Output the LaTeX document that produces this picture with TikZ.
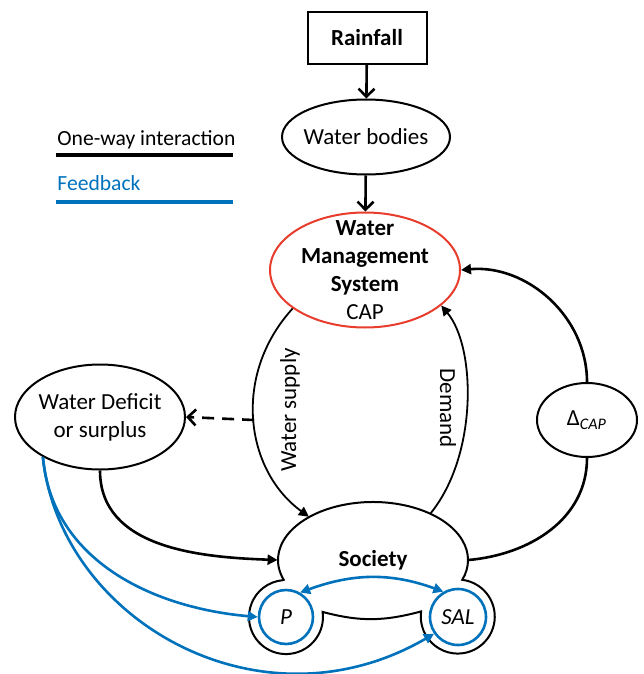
\documentclass[tikz,border=0pt]{standalone}
\usepackage{fontspec}
\setmainfont{Carlito}
\usetikzlibrary{positioning, arrows.meta, shapes.geometric}
\definecolor{fbblue}{RGB}{0,114,188}
\definecolor{wmsred}{RGB}{232,60,45}

\begin{document}
\begin{tikzpicture}[
			x=0.5pt, y=0.5pt,
			font=\fontsize{11.5}{14}\selectfont,
			oval/.style={ellipse, draw, line width=1pt, inner sep=0pt},
			flow/.style={line width=1.3pt, -{Triangle[length=5pt, width=5pt]}},
			barb/.style={line width=1.3pt, -{Straight Barb[length=4pt, width=8pt]}},
			thinflow/.style={line width=0.9pt, -{Triangle[length=5pt, width=5pt]}},
			fb/.style={draw=fbblue, line width=1.3pt, -{Triangle[length=5pt, width=5pt]}},
			keytext/.style={anchor=base west, inner sep=0pt, font=\fontsize{10.8}{13}\selectfont},
			agent/.style={circle, draw=fbblue, line width=1.3pt, minimum size=27pt, inner sep=0pt, font=\fontsize{11.5}{14}\selectfont\itshape}
			]
			\useasboundingbox (0,0) rectangle (643,-674);
			
			% Legenda
			\node[keytext] (key-oneway) at (57,-145) {One-way interaction};
			\coordinate (k1a) at (56,-155);
			\coordinate (k1b) at (233,-155);
			\draw[line width=1.6pt] (k1a) -- (k1b);
			\node[keytext, text=fbblue] (key-fb) at (57,-190) {Feedback};
			\coordinate (k2a) at (56,-202);
			\coordinate (k2b) at (233,-202);
			\draw[line width=1.6pt, fbblue] (k2a) -- (k2b);
			
			% Pioggia e corpi idrici
			\node[draw, line width=1pt, minimum width=59.5pt, minimum height=26pt, font=\fontsize{11.5}{14}\selectfont\bfseries] (rain) at (367,-38) {Rainfall};
			\node[oval, minimum width=84pt, minimum height=37.5pt, label=center:{Water bodies}] (wb) at (366,-137) {};
			\draw[barb] (rain) -- (wb);
			
			% Sistema di gestione
			\node[oval, draw=wmsred, minimum width=95pt, minimum height=57.5pt, label={[align=center]center:{\textbf{Water}\\\textbf{Management}\\\textbf{System}\\CAP}}] (wms) at (365,-270) {};
			\draw[barb] (wb) -- (wms);
			
			% Nodi laterali
			\node[oval, minimum width=85pt, minimum height=52.5pt, label={[align=center]center:{Water Deficit\\or surplus}}] (wds) at (100,-417) {};
			\node[oval, minimum width=50pt, minimum height=37pt, label=center:{Δ\textsubscript{\textit{CAP}}}] (dcap) at (587,-420) {};
			
			% Societa
			\node[ellipse, minimum width=95pt, minimum height=58pt, inner sep=0pt, font=\fontsize{11.5}{14}\selectfont\bfseries] (soc) at (373,-560) {Society};
			\draw[line width=1pt] (soc.center) ++(200:95 and 58)
				arc[start angle=200, end angle=-20, x radius=95, y radius=58]
				arc[start angle=83, end angle=-188, radius=37]
				to[out=195, in=-15] (322.6,-611.9)
				arc[start angle=8, end angle=-265, radius=37] -- cycle;
			\node[agent] (p) at (286,-617) {P};
			\node[agent, minimum size=28pt] (sal) at (458,-617) {SAL};
			
			% Offerta e domanda
			\draw[thinflow] (wms.208) .. controls (232,-375) and (245,-470) .. (soc.146) coordinate[pos=0.5] (ws-mid);
			\node[rotate=90] (ws-lbl) at (290,-410) {Water supply};
			\draw[thinflow] (soc.39) .. controls (478,-455) and (476,-347) .. (wms.-25);
			\node[rotate=-90] (dem-lbl) at (448,-408) {Demand};
			\draw[barb, dashed, dash pattern=on 6pt off 4pt] (ws-mid) -- (wds.east);
			
			% Capacita
			\draw[line width=1.3pt] (soc.east) to[out=5, in=270] (dcap.south);
			\draw[flow] (dcap.north) to[out=90, in=5] (wms.east);
			\draw[flow] (wds.south) to[out=-90, in=178] (soc.west);
			
			% Retroazioni
			\draw[fb] (wds.215) to[out=-85, in=175] (p.west);
			\draw[fb] (wds.215) .. controls (60,-620) and (260,-735) .. (sal.215);
			\draw[fb, {Triangle[length=5pt, width=5pt]}-{Triangle[length=5pt, width=5pt]}] (p.60) to[out=20, in=160] (sal.120);
			
		\end{tikzpicture}
\end{document}
